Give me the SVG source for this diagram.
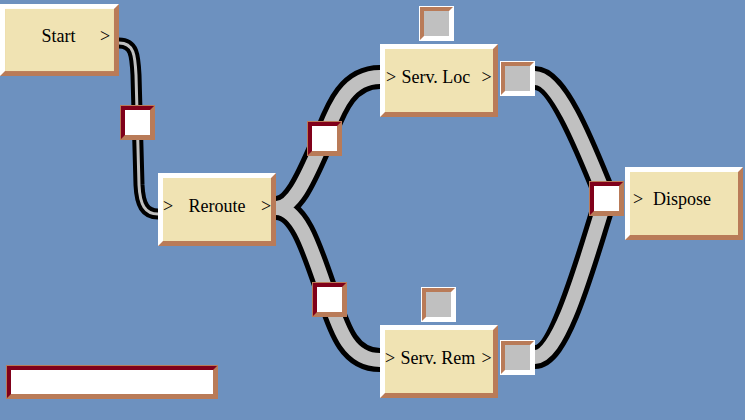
<svg xmlns="http://www.w3.org/2000/svg" xmlns:xlink="http://www.w3.org/1999/xlink" width="745" height="420" viewBox="0 0 745 420">
<style>
.bg{fill:#6D91BF}
.o{fill:none;stroke:#000;stroke-width:24}
.i{fill:none;stroke:#C0C0C0;stroke-width:14}
.os{fill:none;stroke:#000;stroke-width:11}
.is{fill:none;stroke:#C0C0C0;stroke-width:3}
.lbl{font-family:"Liberation Serif","Times New Roman",serif;font-size:18px;fill:#000}
</style>
<defs>
<path id="c0" d="M116,43 L119,43 C134,43 135,55 136,75 L139,185 C140,205 145,214 158,214 L162,214"/>
<path id="c1" d="M270,208 L276,208 C296,208 310,168 324,138 C334,114 345,77 380,77 L385,77"/>
<path id="c2" d="M270,208 L276,208 C300,208 312,250 329,299 C340,332 350,360 380,360 L385,360"/>
<path id="c3" d="M530,78 L535,78 C560,78 590,160 606,198"/>
<path id="c4" d="M606,198 C590,245 562,357 535,357 L530,357"/>
<g id="node">
<rect x="0" y="0" width="118" height="73" fill="#B97B58"/>
<polygon points="0,0 118,0 113,5 5,5 5,68 0,73" fill="#FFFFFF"/>
<rect x="5" y="5" width="108" height="63" fill="#F0E3B3"/>
</g>
<g id="rport">
<rect x="0" y="0" width="35" height="35" fill="#B97B58"/>
<polygon points="0,0 35,0 30,5 5,5 5,30 0,35" fill="#80001A"/>
<rect x="5" y="5" width="25" height="25" fill="#FFFFFF"/>
<rect x="0.5" y="0.5" width="34" height="34" fill="none" stroke="#B97B58" stroke-width="1"/>
</g>
<g id="gport">
<rect x="0" y="0" width="35" height="35" fill="#FFFFFF"/>
<polygon points="1,1 34,1 30,5 5,5 5,30 1,34" fill="#B97B58"/>
<rect x="5" y="5" width="25" height="25" fill="#C0C0C0"/>
</g>
</defs>
<rect class="bg" x="0" y="0" width="745" height="420"/>
<g id="connectors">
<use xlink:href="#c0" class="os"/>
<use xlink:href="#c1" class="o"/>
<use xlink:href="#c2" class="o"/>
<use xlink:href="#c3" class="o"/>
<use xlink:href="#c4" class="o"/>
<use xlink:href="#c0" class="is"/>
<use xlink:href="#c1" class="i"/>
<use xlink:href="#c2" class="i"/>
<use xlink:href="#c3" class="i"/>
<use xlink:href="#c4" class="i"/>
</g>
<g id="start">
<use xlink:href="#node" transform="translate(0,4) scale(1.0085,0.986)"/>
<text class="lbl" y="42"><tspan x="41.5">Start</tspan><tspan x="100">&gt;</tspan></text>
</g>
<g id="reroute">
<use xlink:href="#node" transform="translate(158,173)"/>
<text class="lbl" y="212"><tspan x="163">&gt;</tspan><tspan x="188.5">Reroute</tspan><tspan x="261">&gt;</tspan></text>
</g>
<g id="servloc">
<use xlink:href="#node" transform="translate(380,44)"/>
<text class="lbl" y="83"><tspan x="386">&gt;</tspan><tspan x="401.5">Serv. Loc</tspan><tspan x="481.5">&gt;</tspan></text>
</g>
<g id="servrem">
<use xlink:href="#node" transform="translate(380,325)"/>
<text class="lbl" y="364"><tspan x="385">&gt;</tspan><tspan x="400.5">Serv. Rem</tspan><tspan x="481.5">&gt;</tspan></text>
</g>
<g id="dispose">
<use xlink:href="#node" transform="translate(625,167)"/>
<text class="lbl" y="205"><tspan x="633">&gt;</tspan><tspan x="653">Dispose</tspan></text>
</g>
<g id="ports">
<use xlink:href="#rport" x="120" y="105"/>
<use xlink:href="#rport" x="307" y="121"/>
<use xlink:href="#rport" x="312" y="282"/>
<use xlink:href="#rport" x="589" y="181"/>
<use xlink:href="#gport" x="419" y="6"/>
<use xlink:href="#gport" x="500" y="61"/>
<use xlink:href="#gport" x="421" y="287"/>
<use xlink:href="#gport" x="500" y="340"/>
</g>
<g id="statusbar">
<rect x="6" y="365" width="212" height="34" fill="#B97B58"/>
<polygon points="6,365 218,365 213,370 11,370 11,394 6,399" fill="#80001A"/>
<rect x="11" y="370" width="202" height="24" fill="#FFFFFF"/>
<rect x="6.5" y="365.5" width="211" height="33" fill="none" stroke="#B97B58" stroke-width="1"/>
</g>
</svg>
